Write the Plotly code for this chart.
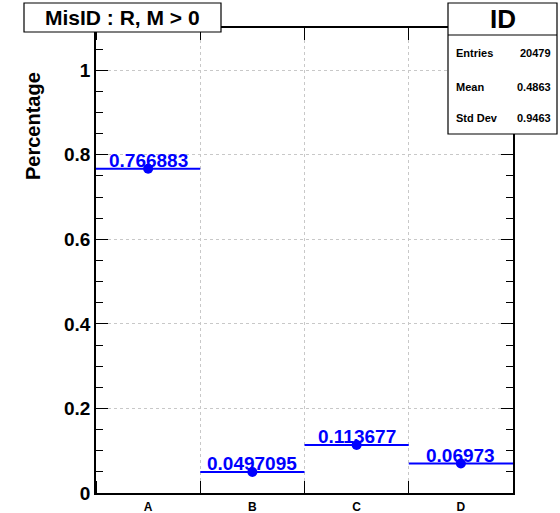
import plotly.graph_objects as go

# Histogram content
categories = ["A", "B", "C", "D"]
fractions = [0.766883, 0.0497095, 0.113677, 0.06973]
value_labels = ["0.766883", "0.0497095", "0.113677", "0.06973"]

hist_title = "MisID : R, M > 0"
y_title = "Percentage"

stats_name = "ID"
stats_rows = ["Entries", "Mean", "Std Dev"]
stats_values = ["20479", "0.4863", "0.9463"]

W, H = 560, 513
L, R, T, B = 96, 47, 28, 20
BLUE = "#0000ff"
FONT = "Liberation Sans"

plot_w = W - L - R
plot_h = H - T - B


def px_x(p):
    return (p - L) / plot_w


def px_y(p):
    return (H - B - p) / plot_h


centers = [i + 0.5 for i in range(len(categories))]
edges = list(range(len(categories) + 1))

fig = go.Figure()
fig.add_trace(go.Scatter(
    x=centers, y=fractions, mode="markers",
    marker=dict(color=BLUE, size=10),
    error_x=dict(type="constant", value=0.5, color=BLUE, thickness=2, width=0),
    showlegend=False, hoverinfo="skip",
))

annotations = []
for xc, v, lab in zip(centers, fractions, value_labels):
    annotations.append(dict(
        x=xc, y=v, xref="x", yref="y", text=lab, showarrow=False,
        xanchor="center", yanchor="bottom", yshift=-4,
        font=dict(family=FONT, size=19, color=BLUE, weight="bold"),
    ))

# y-axis title, right-aligned to the top of the axis
annotations.append(dict(
    x=px_x(33), y=px_y(70), xref="paper", yref="paper", text=y_title,
    showarrow=False, textangle=-90, xanchor="center", yanchor="top",
    font=dict(family=FONT, size=20, color="black", weight="bold"),
))

# title pave
annotations.append(dict(
    x=px_x(122.5), y=px_y(17.5), xref="paper", yref="paper", text=hist_title,
    showarrow=False, xanchor="center", yanchor="middle",
    font=dict(family=FONT, size=21, color="black", weight="bold"),
))

# stats pave
annotations.append(dict(
    x=px_x(502.5), y=px_y(19), xref="paper", yref="paper", text=stats_name,
    showarrow=False, xanchor="center", yanchor="middle",
    font=dict(family=FONT, size=26, color="black", weight="bold"),
))
row_y = [53, 87, 118]
for name, val, yy in zip(stats_rows, stats_values, row_y):
    annotations.append(dict(
        x=px_x(454), y=px_y(yy), xref="paper", yref="paper", text=name,
        showarrow=False, xanchor="left", yanchor="middle",
        font=dict(family=FONT, size=11, color="black", weight="bold"),
    ))
    annotations.append(dict(
        x=px_x(553), y=px_y(yy), xref="paper", yref="paper", text=val,
        showarrow=False, xanchor="right", yanchor="middle",
        font=dict(family=FONT, size=11, color="black", weight="bold"),
    ))

shapes = [
    dict(type="rect", xref="paper", yref="paper",
         x0=px_x(24), x1=px_x(221), y0=px_y(32), y1=px_y(3),
         line=dict(color="black", width=1.2), fillcolor="white", layer="above"),
    dict(type="rect", xref="paper", yref="paper",
         x0=px_x(448), x1=px_x(557), y0=px_y(134), y1=px_y(3),
         line=dict(color="black", width=1.2), fillcolor="white", layer="above"),
    dict(type="line", xref="paper", yref="paper",
         x0=px_x(448), x1=px_x(557), y0=px_y(35), y1=px_y(35),
         line=dict(color="black", width=1.2), layer="above"),
]

fig.update_layout(
    width=W, height=H,
    margin=dict(l=L, r=R, t=T, b=B, pad=0, autoexpand=False),
    paper_bgcolor="white", plot_bgcolor="white",
    font=dict(family=FONT, color="black"),
    annotations=annotations, shapes=shapes,
    xaxis=dict(
        range=[edges[0], edges[-1]], tickmode="array", automargin=False,
        tickvals=centers, ticktext=categories, ticks="", showgrid=False,
        zeroline=False, showline=True, linecolor="black", linewidth=1.5,
        mirror="ticks", ticklabelstandoff=2,
        tickfont=dict(family=FONT, size=12, color="black", weight="bold"),
        minor=dict(tickmode="array", tickvals=edges, ticks="inside",
                   ticklen=12, tickwidth=1, tickcolor="black",
                   showgrid=True, gridcolor="#c8c8c8", griddash="dot",
                   gridwidth=1),
    ),
    yaxis=dict(
        range=[0, 1.1], tick0=0, dtick=0.2, ticks="inside", ticklen=12,
        tickwidth=1, tickcolor="black", showline=True, linecolor="black",
        linewidth=1.5, mirror="ticks", zeroline=False, automargin=False,
        showgrid=True, gridcolor="#c8c8c8", griddash="dot", gridwidth=1,
        tickfont=dict(family=FONT, size=19, color="black", weight="bold"),
        minor=dict(dtick=0.05, ticks="inside", ticklen=7, tickwidth=1,
                   tickcolor="black", showgrid=False),
    ),
)

fig.write_html("out.html")
